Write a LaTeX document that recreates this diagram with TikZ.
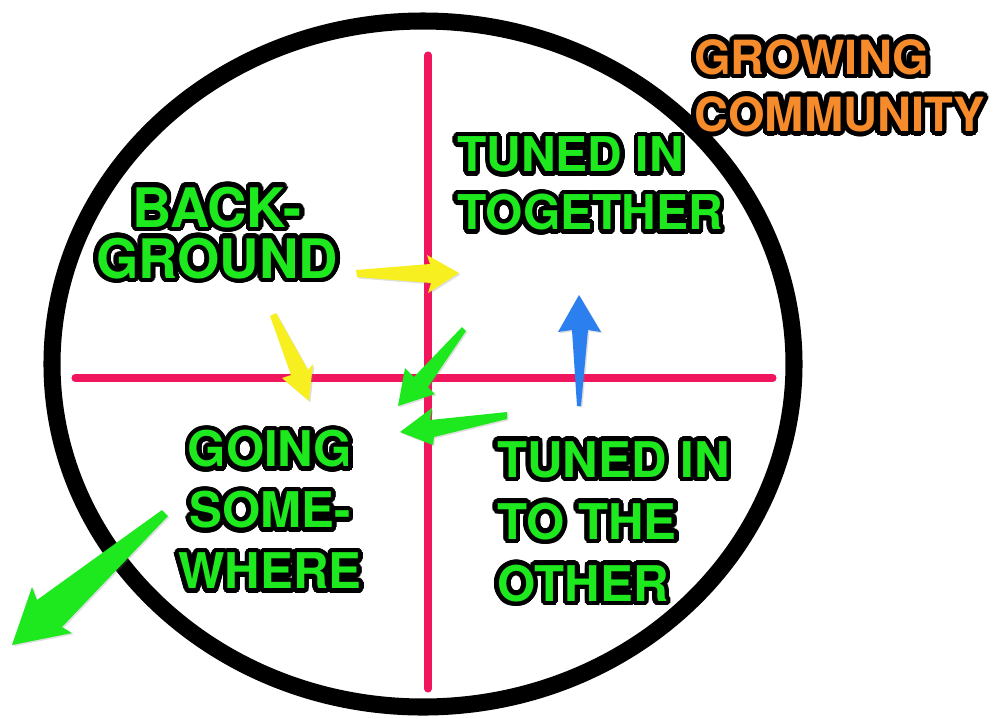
\documentclass[tikz,border=0pt]{standalone}
\usepackage{fontspec}
\setmainfont{TeX Gyre Heros}
\usepackage{contour}
\usetikzlibrary{shadows}

\contourlength{2.6pt}
\contournumber{32}

\definecolor{crossred}{HTML}{F0155C}
\definecolor{tagreen}{HTML}{1EE81E}
\definecolor{tagorange}{HTML}{F68B2C}
\definecolor{arrowyellow}{HTML}{F7EF1F}
\definecolor{arrowblue}{HTML}{2B7FEF}

\newcommand{\outlined}[2]{\contour{black}{\textcolor{#1}{#2}}}

\begin{document}
\begin{tikzpicture}[x=0.02cm, y=-0.02cm,
  caption/.style={font=\fontsize{#1}{34}\selectfont\bfseries, inner sep=0pt},
  caption/.default=28,
  crossline/.style={draw=crossred, line width=4pt, line cap=round},
  fatarrow/.style={fill=#1, drop shadow={opacity=0.25, shadow xshift=0.8pt, shadow yshift=-0.8pt}}]

\useasboundingbox (0,0) rectangle (995,718);

% Ring
\draw[line width=9.7pt] (423,364) ellipse [x radius=371, y radius=343];

% Cross
\coordinate (vtop) at (428,55);
\coordinate (vbot) at (428,689);
\coordinate (hleft) at (75,378);
\coordinate (hright) at (773,378);
\draw[crossline] (vtop) -- (vbot);
\draw[crossline] (hleft) -- (hright);

% Yellow arrows
\fill[fatarrow=arrowyellow] (356,270) -- (430,264) -- (427,255) -- (459,273) -- (428,293) -- (431,283) -- (357,277) -- cycle;
\fill[fatarrow=arrowyellow] (270,316) -- (276,313) -- (308,370) -- (313,364) -- (309,401) -- (282,378) -- (291,375) -- cycle;

% Green arrows
\fill[fatarrow=tagreen] (462,327) -- (466,331) -- (428,387) -- (435,394) -- (398,406) -- (405,368) -- (414,377) -- cycle;
\fill[fatarrow=tagreen] (507,412) -- (507,419) -- (434,437) -- (433,445) -- (400,432) -- (432,408) -- (430,420) -- cycle;
\fill[fatarrow=tagreen] (162,510) -- (168,516) -- (62,627) -- (72,633) -- (12,645) -- (32,587) -- (37,600) -- cycle;

% Blue arrow
\fill[fatarrow=arrowblue] (577,406) -- (572,330) -- (558,332) -- (579,295) -- (601,332) -- (588,330) -- (581,406) -- cycle;

% Labels
\node[caption=31, align=center] (background) at (217,235)
  {\outlined{tagreen}{BACK-}\\[-5pt]\outlined{tagreen}{GROUND}};
\node[caption=27.3, align=left, anchor=west] (together) at (457,186)
  {\outlined{tagreen}{TUNED IN}\\[-1pt]\outlined{tagreen}{TOGETHER}};
\node[caption, align=center] (going) at (270,512)
  {\outlined{tagreen}{GOING}\\[0.7pt]\outlined{tagreen}{SOME-}\\[0.7pt]\outlined{tagreen}{WHERE}};
\node[caption, align=left, anchor=west] (other) at (497,524)
  {\outlined{tagreen}{TUNED IN}\\[1.3pt]\outlined{tagreen}{TO THE}\\[1.3pt]\outlined{tagreen}{OTHER}};
\node[caption=26.8, align=left, anchor=west] (community) at (694,88)
  {\outlined{tagorange}{GROWING}\\[-1.5pt]\outlined{tagorange}{COMMUNITY}};

\end{tikzpicture}
\end{document}
